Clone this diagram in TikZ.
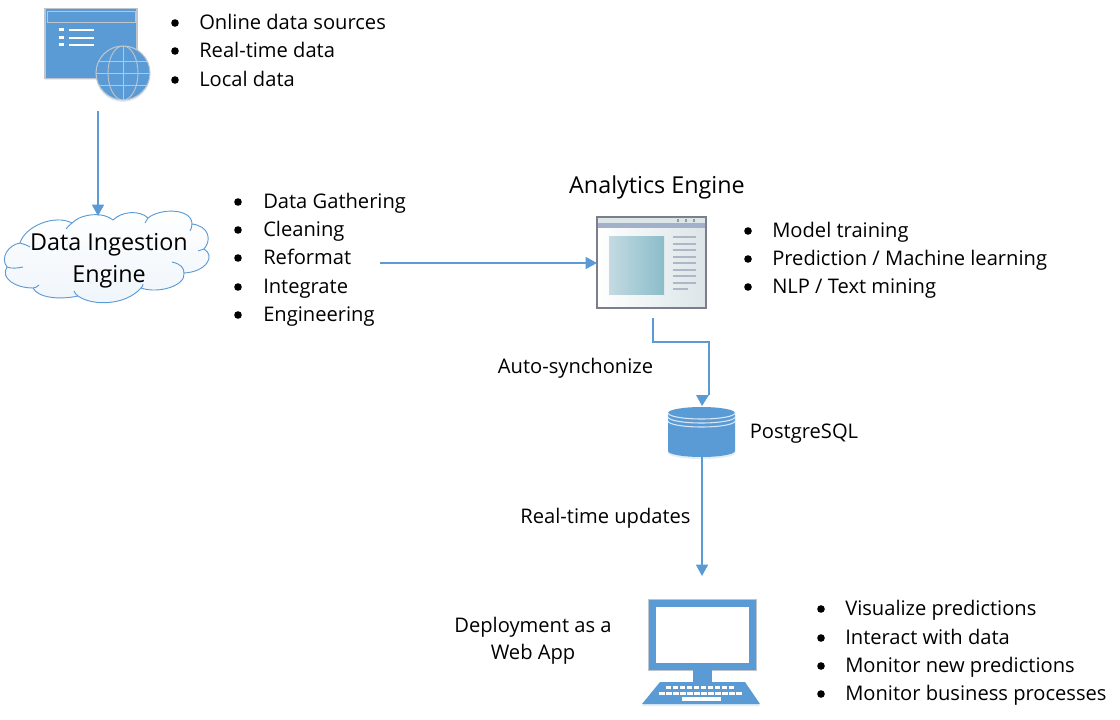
\documentclass[tikz,border=0pt]{standalone}
\usepackage{fontspec}
\setmainfont{Open Sans}
\usetikzlibrary{arrows.meta,shadows}
\definecolor{iconblue}{HTML}{5B9BD5}
\definecolor{icongray}{HTML}{BFC5CC}
\definecolor{framegray}{HTML}{7C7E8E}
\definecolor{barblue}{HTML}{A3B0C9}
\definecolor{panelgray}{HTML}{DCE5E8}
\definecolor{rowgray}{HTML}{AEB7C6}
\definecolor{paneleft}{HTML}{C4DAE1}
\definecolor{panelright}{HTML}{8ABDC9}
\tikzset{
    itemtext/.style={anchor=base west,inner sep=0pt,yshift=-5.2pt,font=\fontsize{15.1}{18}\selectfont},
    plaintext/.style={align=center,inner sep=0pt,font=\fontsize{15.1}{20.5}\selectfont},
    flow/.style={draw=iconblue,line width=1.1pt,-{Triangle[length=8.5pt,width=9pt]}},
    softshadow/.style={drop shadow={shadow xshift=0pt,shadow yshift=-1.5pt,opacity=.18,fill=iconblue}}
}
\begin{document}
\begin{tikzpicture}[x=0.75pt,y=-0.75pt]
    \useasboundingbox (0,0) rectangle (1120,720);

    % Data sources icon
    \node[draw=icongray,fill=iconblue,line width=.8pt,minimum width=69pt,minimum height=52pt,inner sep=0pt,softshadow] (sources) at (91,43.5) {};
    \draw[icongray,line width=.7pt] (47,11) rectangle (135,22);
    \foreach \ypos in {30,38,45} {
        \fill[white] (59,\ypos-1.5) rectangle (64,\ypos+1.5);
        \fill[white] (69,\ypos-1.3) rectangle (94,\ypos+1.3);
    }
    \fill[iconblue,draw=icongray,line width=.8pt,softshadow] (123,73) circle (27);
    \begin{scope}
        \clip (123,73) circle (27);
        \draw[icongray,line width=.7pt] (123,46) -- (123,100);
        \draw[icongray,line width=.7pt] (123,73) ellipse (15 and 27);
        \foreach \ypos in {61,73,85} \draw[icongray,line width=.7pt] (96,\ypos) -- (150,\ypos);
    \end{scope}

    % Source list
    \foreach \ypos/\txt [count=\i] in {23/Online data sources,51/Real-time data,80/Local data} {
        \fill (175,\ypos) circle (3.8);
        \node[itemtext] (source\i) at (199,\ypos) {\txt};
    }

    % Ingestion cloud
    \draw[iconblue,line width=.7pt,top color=white,bottom color=iconblue!10]
        (20,243) .. controls (25,226) and (55,214) .. (72,223)
        .. controls (82,213) and (104,212) .. (113,220)
        .. controls (122,211) and (140,210) .. (148,218)
        .. controls (160,208) and (192,208) .. (192,224)
        .. controls (209,226) and (212,240) .. (204,249)
        .. controls (216,256) and (206,272) .. (184,273)
        .. controls (186,286) and (158,294) .. (141,288)
        .. controls (125,306) and (92,306) .. (78,296)
        .. controls (60,300) and (38,298) .. (33,288)
        .. controls (15,288) and (0,278) .. (7,267)
        .. controls (0,258) and (8,245) .. (20,243) -- cycle;
    \draw[iconblue,line width=.7pt] (20,243) .. controls (23,244) and (27,245) .. (30,247);
    \draw[iconblue,line width=.7pt] (72,223) .. controls (70,225) and (68,226) .. (66,229);
    \draw[iconblue,line width=.7pt] (148,218) .. controls (147,220) and (146,221) .. (145,223);
    \draw[iconblue,line width=.7pt] (192,224) .. controls (192,227) and (191,229) .. (190,231);
    \draw[iconblue,line width=.7pt] (204,249) .. controls (202,250) and (200,250) .. (198,251);
    \draw[iconblue,line width=.7pt] (184,273) .. controls (184,268) and (181,264) .. (172,262);
    \draw[iconblue,line width=.7pt] (141,288) .. controls (142,287) and (143,286) .. (143,284);
    \draw[iconblue,line width=.7pt] (78,296) .. controls (76,295) and (75,293) .. (74,291);
    \draw[iconblue,line width=.7pt] (33,288) .. controls (35,288) and (37,287) .. (39,285);
    \draw[iconblue,line width=.7pt] (7,267) .. controls (12,269) and (18,268) .. (23,267);
    \node[align=center,inner sep=0pt,font=\fontsize{17.5}{24}\selectfont] (ingest) at (109,261) {Data Ingestion\\Engine};

    % Ingestion list
    \foreach \ypos/\txt [count=\i] in {202/Data Gathering,230/Cleaning,258/Reformat,287/Integrate,315/Engineering} {
        \fill (238,\ypos) circle (3.8);
        \node[itemtext] (step\i) at (263,\ypos) {\txt};
    }

    % Analytics window
    \node[font=\fontsize{17.5}{20}\selectfont,inner sep=0pt] (analyticstitle) at (657,187) {Analytics Engine};
    \node[draw=framegray,line width=1.4pt,shading angle=-45,left color=white,right color=panelgray,minimum width=81.5pt,minimum height=68pt,inner sep=0pt] (analytics) at (651.5,262.5) {};
    \fill[panelgray] (598,218) rectangle (705,223);
    \fill[barblue] (598,223) rectangle (705,228);
    \foreach \xpos in {678,686,694} \fill[framegray!80] (\xpos-1.3,219.5) rectangle (\xpos+1.3,222.5);
    \shade[left color=paneleft,right color=panelright] (609,237) rectangle (664,294);
    \foreach \ypos/\xend in {237/696,244/696,250/696,257/696,263/696,270/696,276/696,283/696,289/688}
        \draw[rowgray,line width=1pt] (673,\ypos) -- (\xend,\ypos);

    % Analytics list
    \foreach \ypos/\txt [count=\i] in {231/{Model training},259/{Prediction / Machine learning},287/{NLP / Text mining}} {
        \fill (748,\ypos) circle (3.8);
        \node[itemtext] (task\i) at (772,\ypos) {\txt};
    }

    % Database
    \node[inner sep=0pt,minimum width=50pt,minimum height=38pt] (postgres) at (701.5,432) {};
    \fill[iconblue,softshadow] (668,413) arc[start angle=180,end angle=360,x radius=33.5,y radius=6]
        -- (735,451) arc[start angle=0,end angle=180,x radius=33.5,y radius=6] -- cycle;
    \foreach \yshift in {413,417,421}
        \draw[white!75!iconblue,line width=.8pt] (668,\yshift) arc[start angle=180,end angle=0,x radius=33.5,y radius=6];
    \node[plaintext] (postgreslabel) at (804,434) {PostgreSQL};

    % Monitor
    \node[draw=icongray,line width=.6pt,fill=white,minimum width=75pt,minimum height=47pt,inner sep=0pt] (screen) at (702,635) {};
    \draw[iconblue,line width=6pt] (651.5,602.5) rectangle (752.5,667);
    \draw[icongray,line width=.5pt] (648,599) rectangle (756,670);
    \fill[iconblue] (693,670) rectangle (711.5,682);
    \fill[iconblue,softshadow] (660,682) -- (745,682) -- (760,704) -- (642,704) -- cycle;
    \foreach \xpos in {665,672,...,728} \fill[white] (\xpos+1,686) rectangle (\xpos+5.5,689);
    \foreach \xpos in {659,666,...,736} \fill[white] (\xpos,692) rectangle (\xpos+5.5,695);
    \fill[white] (682,697) rectangle (721,701);
    \node[plaintext] (webapp) at (533,640.5) {Deployment as a\\Web App};

    % Monitor list
    \foreach \ypos/\txt [count=\i] in {609/Visualize predictions,638/Interact with data,666/Monitor new predictions,694/Monitor business processes} {
        \fill (821,\ypos) circle (3.8);
        \node[itemtext] (use\i) at (845,\ypos) {\txt};
    }

    % Arrows
    \coordinate (sourcesout) at (98,111);
    \coordinate (ingestin) at (98,216);
    \coordinate (stepout) at (380,263);
    \coordinate (analyticsin) at (597,263);
    \coordinate (analyticsout) at (653,318);
    \coordinate (bendin) at (709,395);
    \coordinate (postgresout) at (702,457);
    \coordinate (screenin) at (702,576);
    \draw[flow] (sourcesout) -- (ingestin);
    \draw[flow] (stepout) -- (analyticsin);
    \draw[iconblue,line width=1.1pt] (analyticsout) |- (709,342) -- (bendin);
    \fill[iconblue] (696,395) -- (bendin) -- (702,406) -- cycle;
    \draw[flow] (postgresout) -- (screenin);

    % Arrow labels
    \node[plaintext] (synclabel) at (575.5,368) {Auto-synchonize};
    \node[plaintext] (updatelabel) at (605.5,518) {Real-time updates};
\end{tikzpicture}
\end{document}
